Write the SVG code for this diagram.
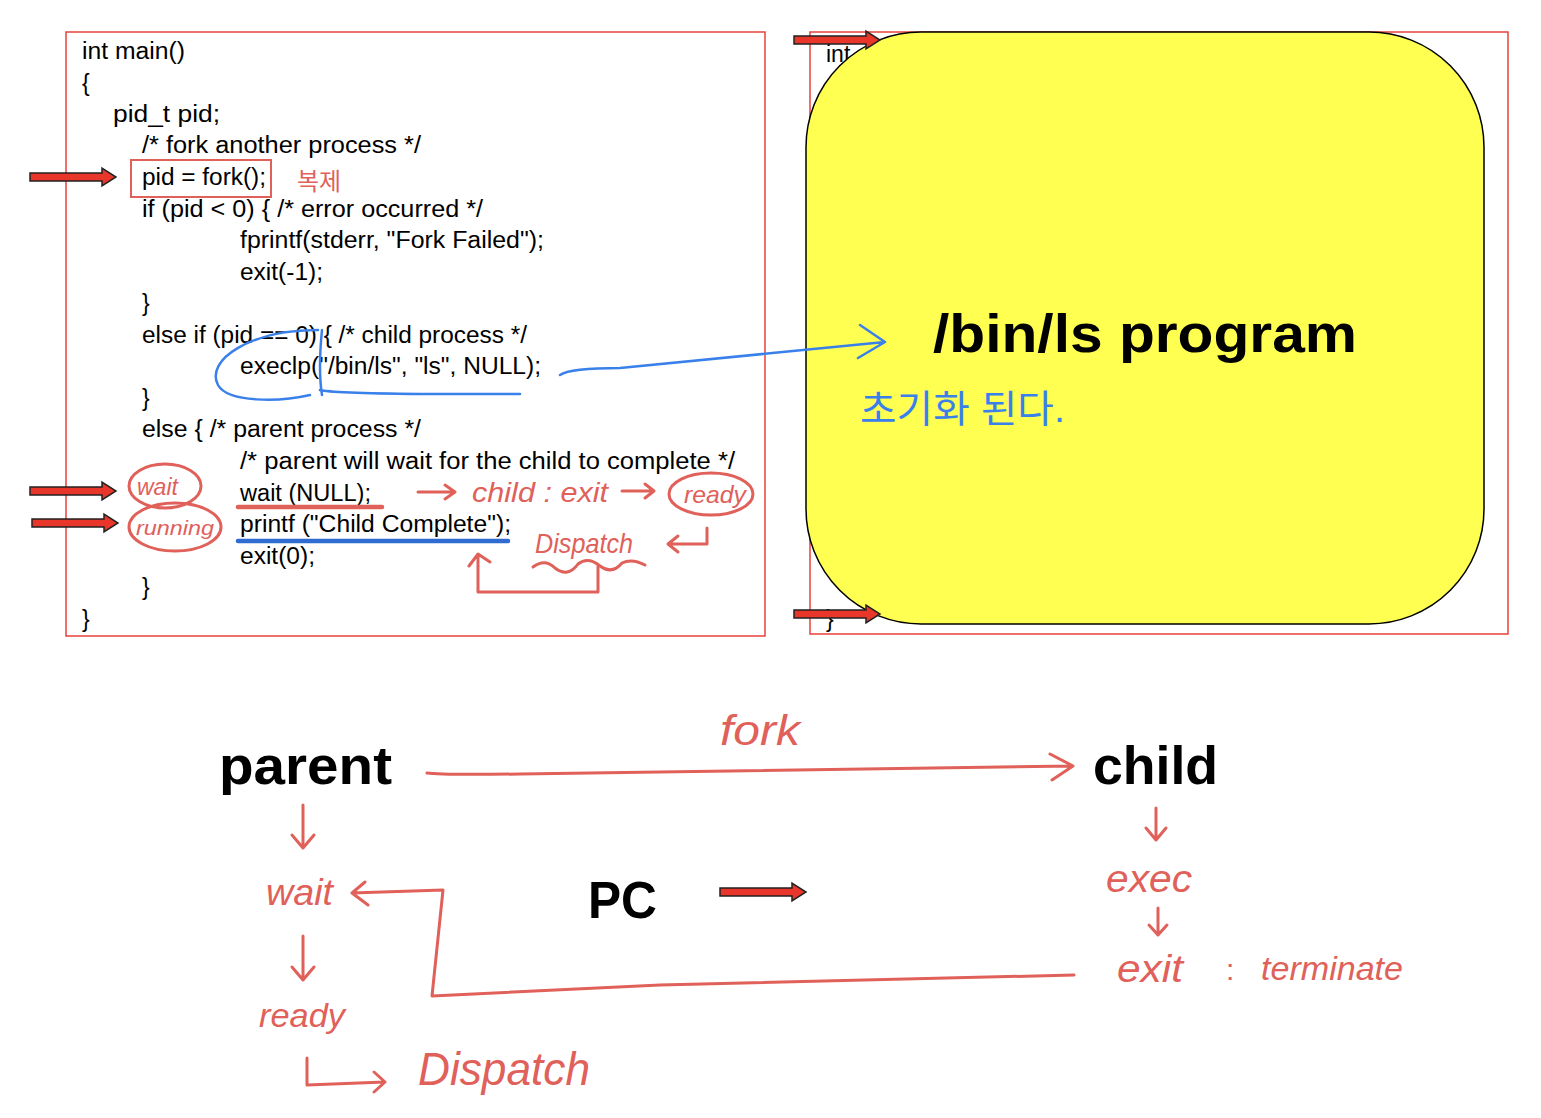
<svg xmlns="http://www.w3.org/2000/svg" width="1541" height="1118" viewBox="0 0 1541 1118">
<defs>
<style>
.code{font-family:"Liberation Sans",Arial,sans-serif;font-size:23px;fill:#000}
.big{font-family:"Liberation Sans",Arial,sans-serif;font-weight:bold;fill:#000}
.hr{font-family:"Liberation Sans","Noto Sans CJK KR",sans-serif;fill:#E0605A}
.hb{font-family:"Liberation Sans","Noto Sans CJK KR",sans-serif;fill:#3A80EA}
.rl{fill:none;stroke:#E0605A;stroke-width:3;stroke-linecap:round;stroke-linejoin:round}
.bl{fill:none;stroke:#3A80EA;stroke-width:2.5;stroke-linecap:round;stroke-linejoin:round}
.box{fill:#fff;stroke:#E8413A;stroke-width:1.5}
.barrow{fill:#E8362A;stroke:#222;stroke-width:1.5}
</style>
<path id="blk" d="M0,-4 L72,-4 L72,-9 L86,0 L72,9 L72,4 L0,4 Z"/>
</defs>

<g id="left-code">
<rect class="box" x="66" y="32" width="699" height="604"/>
<rect x="131" y="160" width="140" height="37" fill="none" stroke="#E0605A" stroke-width="2"/>
<text class="code" x="82" y="59" textLength="103" lengthAdjust="spacingAndGlyphs">int main()</text>
<text class="code" x="82" y="91">{</text>
<text class="code" x="113" y="122" textLength="107" lengthAdjust="spacingAndGlyphs">pid_t  pid;</text>
<text class="code" x="142" y="153" textLength="279" lengthAdjust="spacingAndGlyphs">/* fork another process */</text>
<text class="code" x="142" y="185" textLength="124" lengthAdjust="spacingAndGlyphs">pid = fork();</text>
<text class="code" x="142" y="217" textLength="341" lengthAdjust="spacingAndGlyphs">if (pid &lt; 0) { /* error occurred */</text>
<text class="code" x="240" y="248" textLength="304" lengthAdjust="spacingAndGlyphs">fprintf(stderr, "Fork Failed");</text>
<text class="code" x="240" y="280" textLength="83" lengthAdjust="spacingAndGlyphs">exit(-1);</text>
<text class="code" x="142" y="311">}</text>
<text class="code" x="142" y="343" textLength="385" lengthAdjust="spacingAndGlyphs">else if (pid == 0) { /* child process */</text>
<text class="code" x="240" y="374" textLength="301" lengthAdjust="spacingAndGlyphs">execlp("/bin/ls", "ls", NULL);</text>
<text class="code" x="142" y="406">}</text>
<text class="code" x="142" y="437" textLength="279" lengthAdjust="spacingAndGlyphs">else { /* parent process */</text>
<text class="code" x="240" y="469" textLength="495" lengthAdjust="spacingAndGlyphs">/* parent will wait for the child to complete */</text>
<text class="code" x="240" y="501" textLength="131" lengthAdjust="spacingAndGlyphs">wait (NULL);</text>
<text class="code" x="240" y="532" textLength="271" lengthAdjust="spacingAndGlyphs">printf ("Child Complete");</text>
<text class="code" x="240" y="564" textLength="75" lengthAdjust="spacingAndGlyphs">exit(0);</text>
<text class="code" x="142" y="595">}</text>
<text class="code" x="82" y="627">}</text>
</g>

<g id="right-panel">
<rect class="box" x="810" y="32" width="698" height="602"/>
<text class="code" x="826" y="62">int</text>
<text class="code" x="826" y="627">}</text>
<rect x="806" y="32" width="678" height="592" rx="115" ry="115" fill="#FFFF52" stroke="#000" stroke-width="1.5"/>
<text class="big" x="933" y="352" font-size="54" textLength="424" lengthAdjust="spacingAndGlyphs">/bin/ls program</text>
<text class="hb" x="860" y="422" font-size="38" textLength="205" lengthAdjust="spacingAndGlyphs">초기화 된다.</text>
</g>

<g id="block-arrows">
<use href="#blk" class="barrow" transform="translate(30,177)"/>
<use href="#blk" class="barrow" transform="translate(30,491)"/>
<use href="#blk" class="barrow" transform="translate(32,523)"/>
<use href="#blk" class="barrow" transform="translate(794,40)"/>
<use href="#blk" class="barrow" transform="translate(794,614)"/>
<use href="#blk" class="barrow" transform="translate(720,892)"/>
</g>

<g id="annotations-code">
<text class="hr" x="297" y="190" font-size="24">복제</text>
<ellipse class="rl" cx="165" cy="486" rx="36" ry="22" stroke-width="2.5"/>
<text class="hr" x="137" y="495" font-size="23" font-style="italic">wait</text>
<ellipse class="rl" cx="175" cy="527" rx="46" ry="24" stroke-width="2.5"/>
<text class="hr" x="136" y="535" font-size="21" font-style="italic" textLength="78" lengthAdjust="spacingAndGlyphs">running</text>
<path d="M238,507 L382,507" fill="none" stroke="#E0605A" stroke-width="4.5" stroke-linecap="round"/>
<path d="M238,541 L508,541" fill="none" stroke="#2F6BD0" stroke-width="4.5" stroke-linecap="round"/>
<path class="rl" d="M418,492 L455,492 M445,485 L455,492 L445,499"/>
<text class="hr" x="472" y="502" font-size="28" font-style="italic" textLength="136" lengthAdjust="spacingAndGlyphs">child : exit</text>
<path class="rl" d="M622,491 L654,491 M645,484 L654,491 L645,498"/>
<ellipse class="rl" cx="711" cy="494" rx="42" ry="21" stroke-width="2.5"/>
<text class="hr" x="684" y="503" font-size="24" font-style="italic" textLength="62" lengthAdjust="spacingAndGlyphs">ready</text>
<text class="hr" x="535" y="553" font-size="28" font-style="italic" textLength="98" lengthAdjust="spacingAndGlyphs">Dispatch</text>
<path class="rl" d="M533,567 Q545,558 555,568 Q568,578 578,564 Q588,556 600,566 Q612,575 622,563 Q632,558 645,565" stroke-width="4"/>
<path class="rl" d="M598,566 L598,592 L478,592 L478,556 M469,566 L478,554 L490,562" stroke-width="4"/>
<path class="rl" d="M707,528 L707,544 L668,544 M678,536 L668,544 L678,552" stroke-width="2.5"/>
<path class="bl" d="M318,330 C250,330 205,360 218,385 C228,403 280,402 310,395"/>
<path class="bl" d="M322,330 Q318,370 322,395"/>
<path class="bl" d="M320,390 Q330,393 420,394 L520,394"/>
<path class="bl" d="M560,375 Q570,368 620,368 L885,342 M860,325 L885,342 L858,358"/>
</g>

<g id="parent">
<text class="big" x="219" y="784" font-size="54" textLength="173" lengthAdjust="spacingAndGlyphs">parent</text>
</g>
<g id="child">
<text class="big" x="1093" y="784" font-size="54" textLength="125" lengthAdjust="spacingAndGlyphs">child</text>
</g>
<g id="pc">
<text class="big" x="588" y="918" font-size="52" textLength="69" lengthAdjust="spacingAndGlyphs">PC</text>
</g>

<g id="bottom-labels">
<text class="hr" x="720" y="745" font-size="42" font-style="italic" textLength="80" lengthAdjust="spacingAndGlyphs">fork</text>
<text class="hr" x="266" y="905" font-size="36" font-style="italic" textLength="67" lengthAdjust="spacingAndGlyphs">wait</text>
<text class="hr" x="259" y="1027" font-size="34" font-style="italic" textLength="86" lengthAdjust="spacingAndGlyphs">ready</text>
<text class="hr" x="418" y="1085" font-size="46" font-style="italic" textLength="172" lengthAdjust="spacingAndGlyphs">Dispatch</text>
<text class="hr" x="1106" y="892" font-size="38" font-style="italic" textLength="86" lengthAdjust="spacingAndGlyphs">exec</text>
<text class="hr" x="1117" y="982" font-size="38" font-style="italic" textLength="66" lengthAdjust="spacingAndGlyphs">exit</text>
<text class="hr" x="1226" y="980" font-size="30">:</text>
<text class="hr" x="1261" y="980" font-size="34" font-style="italic" textLength="142" lengthAdjust="spacingAndGlyphs">terminate</text>
</g>

<g id="connectors">
<path class="rl" d="M427,773 Q440,775 520,774 L1073,766 M1050,754 L1073,766 L1052,780" stroke-width="2.5"/>
<path class="rl" d="M303,805 L303,848 M292,835 L303,848 L314,835" stroke-width="2.5"/>
<path class="rl" d="M303,936 L303,980 M292,967 L303,980 L314,967" stroke-width="2.5"/>
<path class="rl" d="M1074,975 L660,985 L432,996 L443,890 L352,893 M365,882 L352,893 L368,905" stroke-width="2.5"/>
<path class="rl" d="M307,1058 L307,1085 L385,1082 M374,1072 L385,1082 L374,1092" stroke-width="2.5"/>
<path class="rl" d="M1156,808 L1156,840 M1146,828 L1156,840 L1166,828" stroke-width="2.5"/>
<path class="rl" d="M1158,908 L1158,935 M1149,925 L1158,935 L1167,925" stroke-width="2.5"/>
</g>
</svg>
